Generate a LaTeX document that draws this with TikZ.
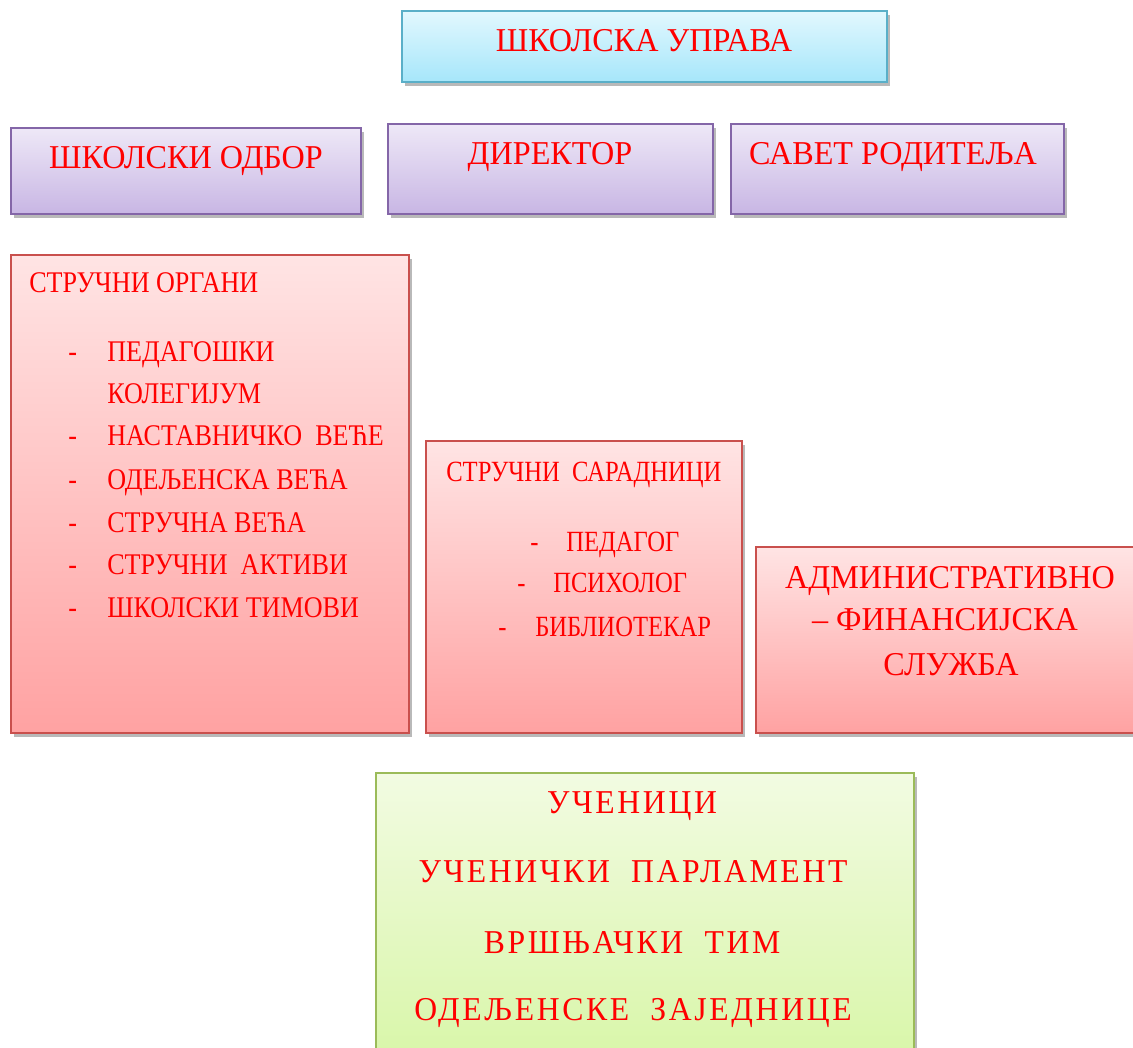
\documentclass[tikz,border=0pt]{standalone}
\usepackage{fontspec}
\setmainfont{Liberation Serif}
\usetikzlibrary{shadows}
\definecolor{txtred}{HTML}{FF0000}
\definecolor{bluetop}{HTML}{E2F8FE}
\definecolor{bluebot}{HTML}{A6E6FA}
\definecolor{blueedge}{HTML}{5AAFC8}
\definecolor{purtop}{HTML}{EEE8F7}
\definecolor{purbot}{HTML}{C8B6E4}
\definecolor{puredge}{HTML}{8466A8}
\definecolor{redtop}{HTML}{FFE4E4}
\definecolor{redbot}{HTML}{FFA2A2}
\definecolor{rededge}{HTML}{C9504D}
\definecolor{grntop}{HTML}{F2FBE2}
\definecolor{grnbot}{HTML}{D8F6A8}
\definecolor{grnedge}{HTML}{9BBB59}
\tikzset{
  box/.style={rectangle, anchor=north west, inner sep=0pt, outer sep=0pt, line width=1.3pt,
    drop shadow={shadow xshift=2pt, shadow yshift=-3pt, fill=black!50, opacity=0.55}},
  bluebox/.style={box, draw=blueedge, top color=bluetop, bottom color=bluebot},
  purbox/.style={box, draw=puredge, top color=purtop, bottom color=purbot},
  redbox/.style={box, draw=rededge, top color=redtop, bottom color=redbot},
  grnbox/.style={box, draw=grnedge, top color=grntop, bottom color=grnbot},
  big/.style={text=txtred, inner sep=0pt, anchor=base, font=\fontsize{25}{29}\selectfont\addfontfeature{FakeStretch=0.965}},
  item/.style={text=txtred, inner sep=0pt, anchor=base west, font=\fontsize{22.5}{26}\selectfont\addfontfeature{FakeStretch=0.87}},
  sitem/.style={text=txtred, inner sep=0pt, anchor=base west, font=\fontsize{22}{26}\selectfont\addfontfeature{FakeStretch=0.84}},
  wide/.style={text=txtred, inner sep=0pt, anchor=base, font=\fontsize{25}{29}\selectfont\addfontfeature{FakeStretch=0.95,LetterSpace=8}},
}
\begin{document}
\begin{tikzpicture}[x=0.75pt, y=-0.75pt]
\useasboundingbox (0,0) rectangle (1133,1048);
% boxes
\node[bluebox, minimum width=485*0.75pt, minimum height=71*0.75pt] (upr) at (402,11) {};
\node[purbox, minimum width=350*0.75pt, minimum height=86*0.75pt] (odbor) at (11,128) {};
\node[purbox, minimum width=325*0.75pt, minimum height=90*0.75pt] (dir) at (388,124) {};
\node[purbox, minimum width=333*0.75pt, minimum height=90*0.75pt] (savet) at (731,124) {};
\node[redbox, minimum width=398*0.75pt, minimum height=478*0.75pt] (organi) at (11,255) {};
\node[redbox, minimum width=316*0.75pt, minimum height=292*0.75pt] (sarad) at (426,441) {};
\node[redbox, minimum width=382*0.75pt, minimum height=186*0.75pt] (admin) at (756,547) {};
\node[grnbox, minimum width=538*0.75pt, minimum height=290*0.75pt] (ucen) at (376,773) {};
% texts
\node[big] (tupr) at (644,52) {ШКОЛСКА УПРАВА};
\node[big] (todbor) at (186,169) {ШКОЛСКИ ОДБОР};
\node[big] (tdir) at (550,165) {ДИРЕКТОР};
\node[big] (tsavet) at (893,165) {САВЕТ РОДИТЕЉА};
% strucni organi
\node[item] (to0) at (29,293) {СТРУЧНИ ОРГАНИ};
\node[item] (d1) at (68,362) {-};
\node[item] (o1) at (107,362) {ПЕДАГОШКИ};
\node[item] (o1b) at (107,404) {КОЛЕГИЈУМ};
\node[item] (d2) at (68,446) {-};
\node[item] (o2) at (107,446) {НАСТАВНИЧКО\ \ ВЕЋЕ};
\node[item] (d3) at (68,490) {-};
\node[item] (o3) at (107,490) {ОДЕЉЕНСКА ВЕЋА};
\node[item] (d4) at (68,533) {-};
\node[item] (o4) at (107,533) {СТРУЧНА ВЕЋА};
\node[item] (d5) at (68,575) {-};
\node[item] (o5) at (107,575) {СТРУЧНИ\ \ АКТИВИ};
\node[item] (d6) at (68,618) {-};
\node[item] (o6) at (107,618) {ШКОЛСКИ ТИМОВИ};
% strucni saradnici
\node[sitem] (ts0) at (446,482) {СТРУЧНИ\ \ САРАДНИЦИ};
\node[sitem] (e1) at (530,552) {-};
\node[sitem] (s1) at (566,552) {ПЕДАГОГ};
\node[sitem] (e2) at (517,593) {-};
\node[sitem] (s2) at (553,593) {ПСИХОЛОГ};
\node[sitem] (e3) at (498,637) {-};
\node[sitem] (s3) at (535,637) {БИБЛИОТЕКАР};
% admin
\node[big] (ta1) at (950,589) {АДМИНИСТРАТИВНО};
\node[big] (ta2) at (945,631) {– ФИНАНСИЈСКА};
\node[big] (ta3) at (951,676) {СЛУЖБА};
% ucenici
\node[wide] (tu1) at (632,813) {УЧЕНИЦИ};
\node[wide] (tu2) at (633,882) {УЧЕНИЧКИ\ \ ПАРЛАМЕНТ};
\node[wide] (tu3) at (632,953) {ВРШЊАЧКИ\ \ ТИМ};
\node[wide] (tu4) at (633,1020) {ОДЕЉЕНСКЕ\ \ ЗАЈЕДНИЦЕ};
\end{tikzpicture}
\end{document}
